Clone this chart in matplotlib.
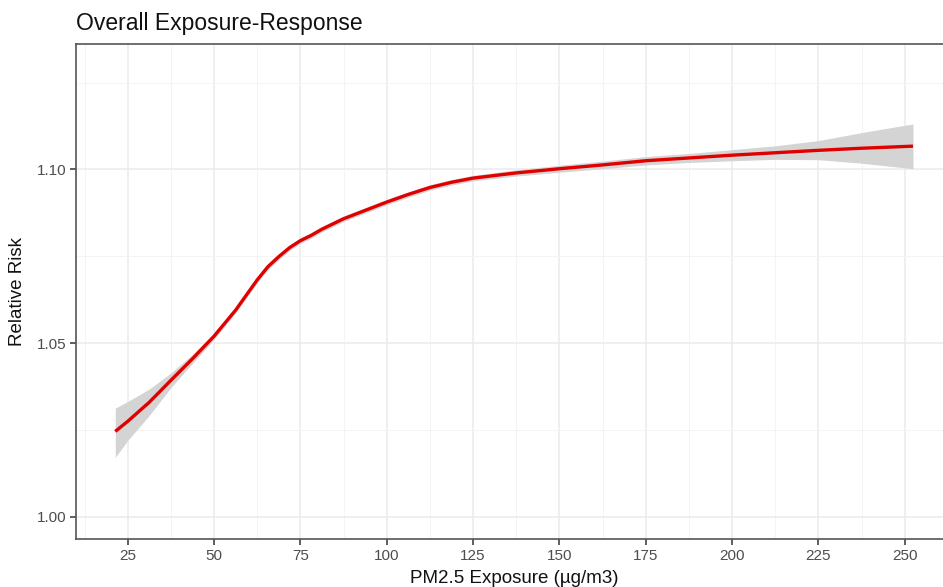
import matplotlib
matplotlib.use("Agg")
import matplotlib.pyplot as plt
import numpy as np

# values
exposure = [21.4, 25, 31.25, 37.5, 43.75, 50, 56.25, 59.4, 62.5, 65.6, 68.75,
            71.9, 75, 78.1, 81.25, 87.5, 93.75, 100, 106.25, 112.5, 118.75,
            125, 137.5, 150, 162.5, 175, 187.5, 200, 212.5, 225, 237.5, 252.4]
rr = [1.0246, 1.0275, 1.0330, 1.0393, 1.0455, 1.0520, 1.0595, 1.0639, 1.0682,
      1.0720, 1.0749, 1.0775, 1.0795, 1.0810, 1.0828, 1.0858, 1.0882, 1.0906,
      1.0928, 1.0948, 1.0963, 1.0975, 1.0990, 1.1002, 1.1013, 1.1025, 1.1033,
      1.1041, 1.1048, 1.1055, 1.1061, 1.1067]
rr_low = [1.0171, 1.0220, 1.0292, 1.0372, 1.0442, 1.0511, 1.0587, 1.0631,
          1.0674, 1.0712, 1.0741, 1.0767, 1.0787, 1.0802, 1.0820, 1.0850,
          1.0874, 1.0898, 1.0920, 1.0940, 1.0955, 1.0967, 1.0981, 1.0992,
          1.1002, 1.1013, 1.1020, 1.1025, 1.1029, 1.1028, 1.1018, 1.1002]
rr_high = [1.0313, 1.0332, 1.0368, 1.0414, 1.0468, 1.0529, 1.0603, 1.0647,
           1.0690, 1.0728, 1.0757, 1.0783, 1.0803, 1.0818, 1.0836, 1.0866,
           1.0890, 1.0914, 1.0936, 1.0956, 1.0971, 1.0983, 1.0999, 1.1012,
           1.1024, 1.1037, 1.1046, 1.1057, 1.1068, 1.1083, 1.1106, 1.1131]

x_ticks = [25, 50, 75, 100, 125, 150, 175, 200, 225, 250]
y_ticks = [1.00, 1.05, 1.10]
y_tick_labels = ["1.00", "1.05", "1.10"]

plt.rcParams['font.family'] = ['Liberation Sans', 'DejaVu Sans']

fig = plt.figure(figsize=(9.43, 5.87), dpi=100)
ax = fig.add_axes([76 / 943, 1 - 539 / 587, (952 - 76) / 943, (539 - 44) / 587])

ax.fill_between(exposure, rr_low, rr_high, color="#d4d4d4", lw=0, zorder=2)
ax.plot(exposure, rr, color="#e00000", lw=2.4, zorder=3,
        solid_capstyle="butt", solid_joinstyle="round")

ax.set_xlim(10.03, 263.7)
ax.set_ylim(0.99364, 1.1361)

ax.set_xticks(x_ticks)
ax.set_xticks(np.arange(12.5, 263, 25), minor=True)
ax.set_yticks(y_ticks)
ax.set_yticklabels(y_tick_labels)
ax.set_yticks([1.025, 1.075, 1.125], minor=True)

ax.grid(which="major", color="#ebebeb", lw=1.1, zorder=0)
ax.grid(which="minor", color="#f3f3f3", lw=0.6, zorder=0)
ax.set_axisbelow(True)

for s in ax.spines.values():
    s.set_color("#555555")
    s.set_linewidth(1.2)

ax.tick_params(which="major", length=4, width=1.1, color="#333333",
               labelcolor="#4d4d4d", labelsize=11, pad=3)
ax.tick_params(which="minor", length=0)

ax.set_xlabel("PM2.5 Exposure (µg/m3)", fontsize=13.5, color="#111111", labelpad=5)
ax.set_ylabel("Relative Risk", fontsize=13.5, color="#111111", labelpad=8)
ax.set_title("Overall Exposure-Response", fontsize=16.5, color="#111111",
             loc="left", pad=10)

fig.savefig("out.png", dpi=100)
